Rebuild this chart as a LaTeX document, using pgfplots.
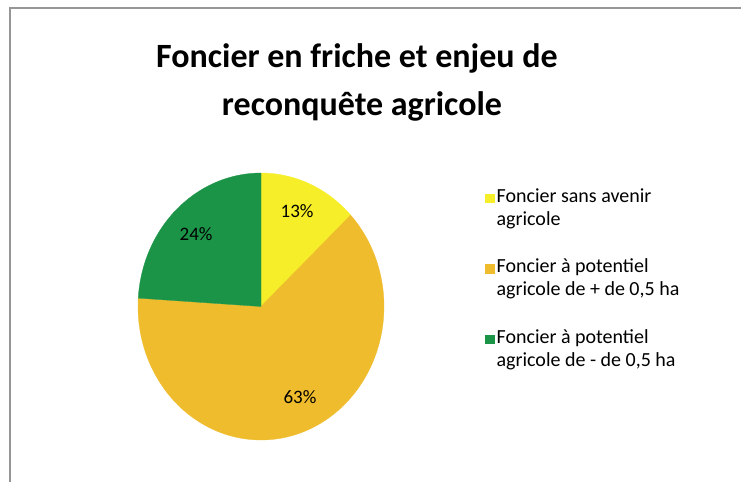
\documentclass[border=0pt]{standalone}
\usepackage{fontspec}
\setmainfont{Carlito}
\usepackage{pgfplots}
\pgfplotsset{compat=1.18}
\usepackage{pgfplotstable}

\definecolor{pieyellow}{RGB}{245,238,40}
\definecolor{pieorange}{RGB}{238,188,44}
\definecolor{piegreen}{RGB}{28,148,72}
\definecolor{framegray}{RGB}{150,150,150}

% parts in percent, clockwise from the top
\pgfplotstableread{
part value
1 13
2 63
3 24
}\piedata

% two-line legend text
\newcommand{\legtext}[2]{\begin{tabular}[t]{@{}l@{}}#1\\#2\end{tabular}}

\begin{document}
\begin{tikzpicture}
\path[use as bounding box] (0pt,0pt) rectangle (741pt,-482pt);
\draw[framegray, line width=1.6pt] (10pt,-482pt) -- (10pt,-8pt) -- (741pt,-8pt);

\node[anchor=base, font=\bfseries\fontsize{34}{40}\selectfont] at (357pt,-67pt) {Foncier en friche et enjeu de};
\node[anchor=base, font=\bfseries\fontsize{34}{40}\selectfont] at (362pt,-115pt) {reconquête agricole};

\pgfplotstablegetelem{0}{value}\of\piedata \let\va\pgfplotsretval
\pgfplotstablegetelem{1}{value}\of\piedata \let\vb\pgfplotsretval
\pgfplotstablegetelem{2}{value}\of\piedata \let\vc\pgfplotsretval
\pgfmathsetmacro\angA{90-3.6*\va}
\pgfmathsetmacro\angB{\angA-3.6*\vb}
\pgfmathsetmacro\angC{\angB-3.6*\vc}

\begin{axis}[
    at={(138pt,-440pt)}, anchor=south west,
    scale only axis,
    width=246pt, height=267pt,
    xmin=-1, xmax=1, ymin=-1, ymax=1,
    hide axis,
    clip=false,
    legend cell align=left,
    legend image code/.code={\fill[#1] (0pt,0pt) rectangle (8.5pt,8.5pt);},
    legend style={at={(1.411,0.951)}, anchor=north west, draw=none, fill=none,
        inner sep=0pt, row sep=53pt,
        font=\fontsize{20}{23}\selectfont,
        nodes={inner sep=0pt, anchor=base west},
        /tikz/every odd column/.append style={column sep=2.5pt}},
]
\addplot[fill=pieyellow, draw=pieyellow, line width=0.3pt, domain=\angA:90, samples=60, variable=\t]
    ({cos(t)},{sin(t)}) -- (axis cs:0,0) -- cycle;
\addlegendentry{\legtext{Foncier sans avenir}{agricole}}
\addplot[fill=pieorange, draw=pieorange, line width=0.3pt, domain=\angB:\angA, samples=120, variable=\t]
    ({cos(t)},{sin(t)}) -- (axis cs:0,0) -- cycle;
\addlegendentry{\legtext{Foncier à potentiel}{agricole de + de 0,5 ha}}
\addplot[fill=piegreen, draw=piegreen, line width=0.3pt, domain=\angC:\angB, samples=60, variable=\t]
    ({cos(t)},{sin(t)}) -- (axis cs:0,0) -- cycle;
\addlegendentry{\legtext{Foncier à potentiel}{agricole de - de 0,5 ha}}

\node[anchor=base, font=\fontsize{19}{22}\selectfont] at (axis cs:0.293,0.663) {13\%};
\node[anchor=base, font=\fontsize{19}{22}\selectfont] at (axis cs:-0.528,0.498) {24\%};
\node[anchor=base, font=\fontsize{19}{22}\selectfont] at (axis cs:0.317,-0.723) {63\%};
\end{axis}
\end{tikzpicture}
\end{document}
